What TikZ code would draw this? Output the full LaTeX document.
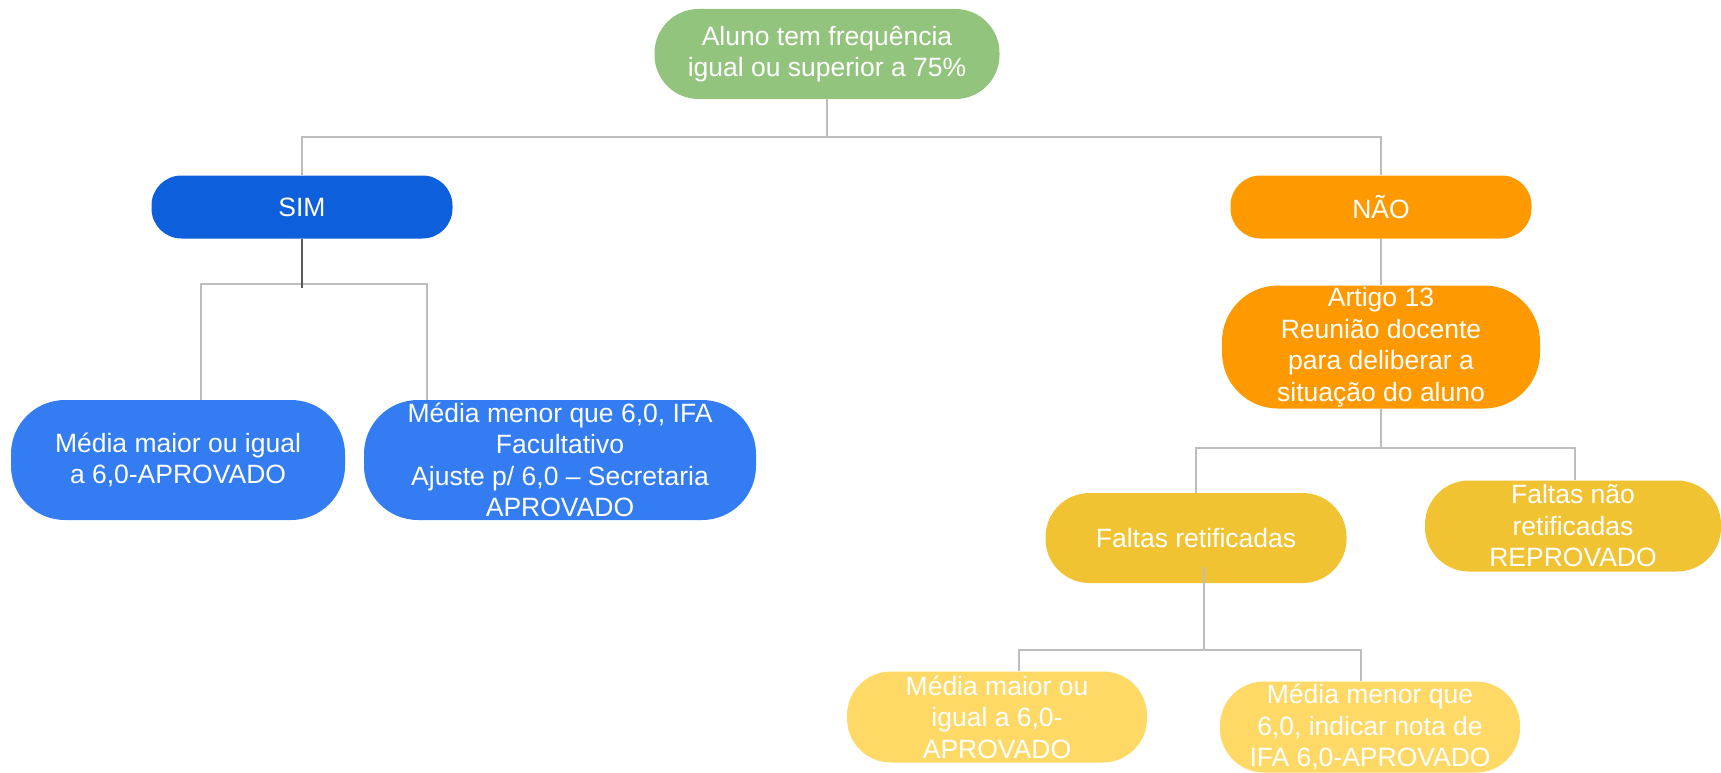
\documentclass[tikz,border=0pt]{standalone}
\usepackage{fontspec}
\setmainfont{Liberation Sans}
\usetikzlibrary{positioning}
\definecolor{verde}{HTML}{93C47D}
\definecolor{azulesc}{RGB}{14,95,220}
\definecolor{azul}{RGB}{51,124,242}
\definecolor{laranja}{HTML}{FF9900}
\definecolor{amarelo}{HTML}{F1C232}
\definecolor{amarelocl}{HTML}{FFD966}
\definecolor{linha}{HTML}{BDBDBD}
\begin{document}
\begin{tikzpicture}[x=1pt,y=-1pt,
        caixa/.style={text=white, align=center, inner sep=0pt,
            font=\fontsize{26.5}{31.5}\selectfont},
        conn/.style={draw=linha, line width=1.8pt},
        connesc/.style={draw=black!65, line width=1.5pt}]
    \useasboundingbox (0,0) rectangle (1721,773);
    % nodes
    \node[caixa, fill=verde, minimum width=345pt, minimum height=90pt, rounded corners=44pt]
        (root) at (827,54) {Aluno tem frequência\\igual ou superior a 75\%};
    \node[caixa, fill=azulesc, minimum width=301pt, minimum height=63pt, rounded corners=30pt]
        (sim) at (302,207) {SIM};
    \node[caixa, fill=laranja, minimum width=301pt, minimum height=63pt, rounded corners=30pt]
        (nao) at (1381,207) {NÃO};
    \node[caixa, fill=azul, minimum width=334pt, minimum height=120pt, rounded corners=54pt]
        (simA) at (178,460) {Média maior ou igual\\a 6,0-APROVADO};
    \node[caixa, fill=azul, minimum width=392pt, minimum height=120pt, rounded corners=54pt]
        (simB) at (560,460) {Média menor que 6,0, IFA\\Facultativo\\Ajuste p/ 6,0 – Secretaria\\APROVADO};
    \node[caixa, fill=laranja, minimum width=318pt, minimum height=123pt, rounded corners=56pt]
        (artigo) at (1381,347) {Artigo 13\\Reunião docente\\para deliberar a\\situação do aluno};
    \node[caixa, fill=amarelo, minimum width=301pt, minimum height=90pt, rounded corners=44pt]
        (fr) at (1196,538) {Faltas retificadas};
    \node[caixa, fill=amarelo, minimum width=296pt, minimum height=91pt, rounded corners=44pt]
        (fnr) at (1573,526) {Faltas não\\retificadas\\REPROVADO};
    \node[caixa, fill=amarelocl, minimum width=300pt, minimum height=91pt, rounded corners=44pt]
        (frA) at (997,717) {Média maior ou\\igual a 6,0-\\APROVADO};
    \node[caixa, fill=amarelocl, minimum width=300pt, minimum height=91pt, rounded corners=44pt]
        (frB) at (1370,727) {Média menor que\\6,0, indicar nota de\\IFA 6,0-APROVADO};
    % connectors
    \coordinate (j1) at (827,137);
    \coordinate (j2) at (302,284);
    \coordinate (j3) at (1381,448);
    \coordinate (j4) at (1204,650);
    \draw[conn] (root.south) -- (j1);
    \draw[conn] (sim.north) |- (j1) -| (nao.north);
    \draw[conn] ([xshift=23pt]simA.north) |- (j2) -| ([xshift=-133pt]simB.north);
    \draw[connesc] (sim.south) -- ++(0,49);
    \draw[conn] (nao.south) -- (artigo.north);
    \draw[conn] (artigo.south) -- (j3);
    \draw[conn] (fr.north) |- (j3) -| ([xshift=2pt]fnr.north);
    \draw[conn] ([xshift=8pt,yshift=16pt]fr.south) -- (j4);
    \draw[conn] ([xshift=22pt]frA.north) |- (j4) -| ([xshift=-9pt]frB.north);
\end{tikzpicture}
\end{document}
